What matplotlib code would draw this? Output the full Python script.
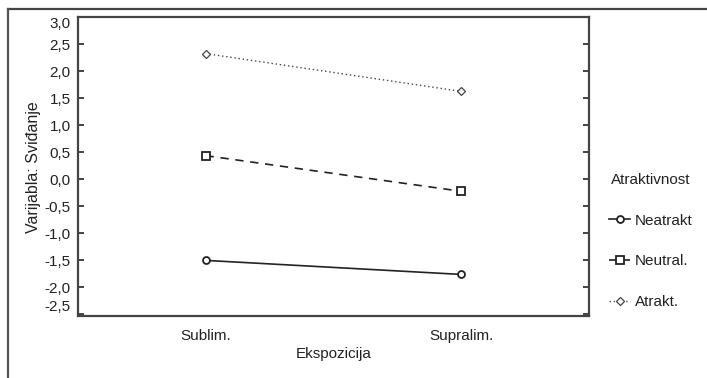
import numpy as np
import matplotlib.pyplot as plt
from matplotlib.lines import Line2D

categories = ["Sublim.", "Supralim."]
neatrakt = [-1.50, -1.76]
neutral = [0.44, -0.22]
atrakt = [2.33, 1.63]
yticks = [-2.5, -2.0, -1.5, -1.0, -0.5, 0.0, 0.5, 1.0, 1.5, 2.0, 2.5, 3.0]

plt.rcParams['font.family'] = ['Liberation Sans', 'DejaVu Sans']
fs = 11

fig = plt.figure(figsize=(7.07, 3.78), dpi=100)
ax = fig.add_axes([0.110, 0.164, 0.723, 0.790])

x = np.arange(len(categories))
ax.plot(x, neatrakt, color='#222222', lw=1.2, ls='-', marker='o', ms=5,
        mfc='white', mec='#222222', mew=1.3, label='Neatrakt')
ax.plot(x, neutral, color='#222222', lw=1.2, ls=(0, (5, 4)), marker='s', ms=6,
        mfc='white', mec='#222222', mew=1.3, label='Neutral.')
ax.plot(x, atrakt, color='#444444', lw=1.0, ls=(0, (1, 2)), marker='D', ms=4,
        mfc='white', mec='#444444', mew=0.9, label='Atrakt.')

ax.set_xlim(-0.5, 1.5)
ax.set_ylim(-2.53, 3.0)
ax.set_xticks(x)
ax.set_xticklabels(categories)
ax.set_yticks(yticks)
ax.set_yticklabels([f"{v:.1f}".replace('.', ',') for v in yticks])
ax.tick_params(axis='x', length=0, pad=9, labelsize=fs, colors='#222222')
ax.tick_params(axis='y', direction='in', length=4, width=1.2, labelsize=fs,
               colors='#222222', right=True, pad=5)
ylabs = ax.get_yticklabels()
ylabs[0].set_va('bottom')
ylabs[-1].set_va('top')
for s in ax.spines.values():
    s.set_linewidth(1.6)
    s.set_color('#444444')

ax.set_xlabel("Ekspozicija", fontsize=fs, color='#222222', labelpad=3)
ax.set_ylabel("Varijabla: Sviđanje", fontsize=11.5, color='#222222', labelpad=3)

leg = fig.legend(loc='upper left', bbox_to_anchor=(0.842, 0.578), frameon=False,
                 title="Atraktivnost", fontsize=fs, title_fontsize=fs,
                 handlelength=1.4, handletextpad=0.3, labelspacing=1.75,
                 markerfirst=True)
leg._legend_box.sep = 19
for t in leg.get_texts():
    t.set_color('#222222')
leg.get_title().set_color('#222222')

# outer frame (top and left edges)
fig.add_artist(Line2D([0.012, 1.0], [0.977, 0.977], transform=fig.transFigure,
                      color='#444444', lw=1.6))
fig.add_artist(Line2D([0.012, 0.012], [0.0, 0.977], transform=fig.transFigure,
                      color='#555555', lw=1.6))

fig.savefig("out.png", dpi=100)
